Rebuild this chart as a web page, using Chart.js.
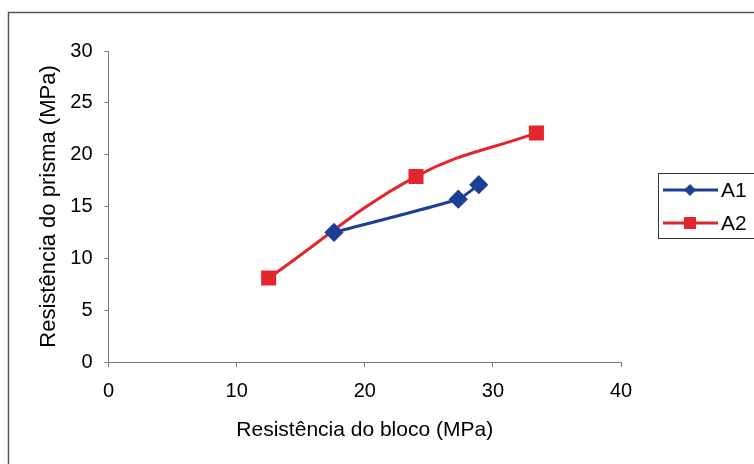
<!DOCTYPE html>
<html>
<head>
<meta charset="utf-8">
<script src="https://cdn.jsdelivr.net/npm/chart.js@4.4.1/dist/chart.umd.min.js"></script>
<style>
  html, body { margin: 0; padding: 0; background: #fff; }
  #wrap { width: 754px; height: 464px; position: relative; }
</style>
</head>
<body>
<div id="wrap"><canvas id="chart" width="754" height="464"></canvas></div>
<script>
// block strength vs prism strength
const seriesNames = ['A1', 'A2'];
const a1Bloco = [17.6, 27.3, 28.9];
const a1Prisma = [12.5, 15.7, 17.1];
const a2Bloco = [12.5, 24.0, 33.4];
const a2Prisma = [8.1, 17.9, 22.1];
const xTicks = [0, 10, 20, 30, 40];
const yTicks = [0, 5, 10, 15, 20, 25, 30];

const blue = '#1d3f94';
const red = '#e3262e';
const font = 'Liberation Sans, Arial, sans-serif';

function toPoints(xs, ys) {
  return xs.map((x, i) => ({ x: x, y: ys[i] }));
}

// outer frame + excel style legend (line with marker)
const framePlugin = {
  id: 'frame',
  afterDraw(chart) {
    const ctx = chart.ctx;
    ctx.save();
    ctx.strokeStyle = '#555';
    ctx.lineWidth = 1.5;
    ctx.strokeRect(8.5, 12.5, 800, 500);

    ctx.lineWidth = 1;
    ctx.strokeStyle = '#333';
    ctx.strokeRect(658.5, 173.5, 120, 65);

    chart.data.datasets.forEach((ds, i) => {
      const y = 190 + i * 33;
      ctx.strokeStyle = ds.borderColor;
      ctx.lineWidth = 3;
      ctx.beginPath();
      ctx.moveTo(663, y);
      ctx.lineTo(718, y);
      ctx.stroke();
      ctx.fillStyle = ds.backgroundColor;
      ctx.beginPath();
      if (ds.pointStyle === 'rectRot') {
        ctx.moveTo(690, y - 6);
        ctx.lineTo(696, y);
        ctx.lineTo(690, y + 6);
        ctx.lineTo(684, y);
      } else {
        ctx.rect(684, y - 6, 12, 12);
      }
      ctx.closePath();
      ctx.fill();
      ctx.fillStyle = '#000';
      ctx.font = '21px ' + font;
      ctx.textBaseline = 'middle';
      ctx.fillText(ds.label, 721, y + 1);
    });
    ctx.restore();
  }
};

new Chart(document.getElementById('chart'), {
  type: 'scatter',
  data: {
    datasets: [
      {
        label: seriesNames[0],
        data: toPoints(a1Bloco, a1Prisma),
        showLine: true,
        borderColor: blue,
        backgroundColor: blue,
        borderWidth: 3,
        tension: 0.15,
        pointStyle: 'rectRot',
        pointRadius: 7.5,
        pointHoverRadius: 7.5
      },
      {
        label: seriesNames[1],
        data: toPoints(a2Bloco, a2Prisma),
        showLine: true,
        borderColor: red,
        backgroundColor: red,
        borderWidth: 3,
        tension: 0.4,
        pointStyle: 'rect',
        pointRadius: 8.5,
        pointHoverRadius: 8.5
      }
    ]
  },
  options: {
    responsive: false,
    animation: false,
    layout: { padding: { top: 51, right: 133, left: 0, bottom: 0 } },
    plugins: {
      legend: { display: false },
      tooltip: { enabled: false }
    },
    scales: {
      x: {
        type: 'linear',
        min: 0,
        max: 40,
        afterBuildTicks: (axis) => { axis.ticks = xTicks.map(v => ({ value: v })); },
        afterFit: (axis) => { axis.height = 102; },
        grid: { display: true, drawOnChartArea: false, drawTicks: true, tickLength: 5, color: '#777' },
        border: { color: '#777', width: 1 },
        ticks: { color: '#000', font: { family: font, size: 20 }, padding: 12, maxRotation: 0 },
        title: {
          display: true,
          text: 'Resistência do bloco (MPa)',
          color: '#000',
          font: { family: font, size: 21 },
          padding: { top: 0, bottom: 21 }
        }
      },
      y: {
        type: 'linear',
        min: 0,
        max: 30,
        afterBuildTicks: (axis) => { axis.ticks = yTicks.map(v => ({ value: v })); },
        afterFit: (axis) => { axis.width = 108.5; },
        grid: { display: true, drawOnChartArea: false, drawTicks: true, tickLength: 4, color: '#777' },
        border: { color: '#777', width: 1 },
        ticks: { color: '#000', font: { family: font, size: 20 }, padding: 12 },
        title: {
          display: true,
          text: 'Resistência do prisma (MPa)',
          color: '#000',
          font: { family: font, size: 22 },
          padding: { top: 36, bottom: 0 }
        }
      }
    }
  },
  plugins: [framePlugin]
});
</script>
</body>
</html>
